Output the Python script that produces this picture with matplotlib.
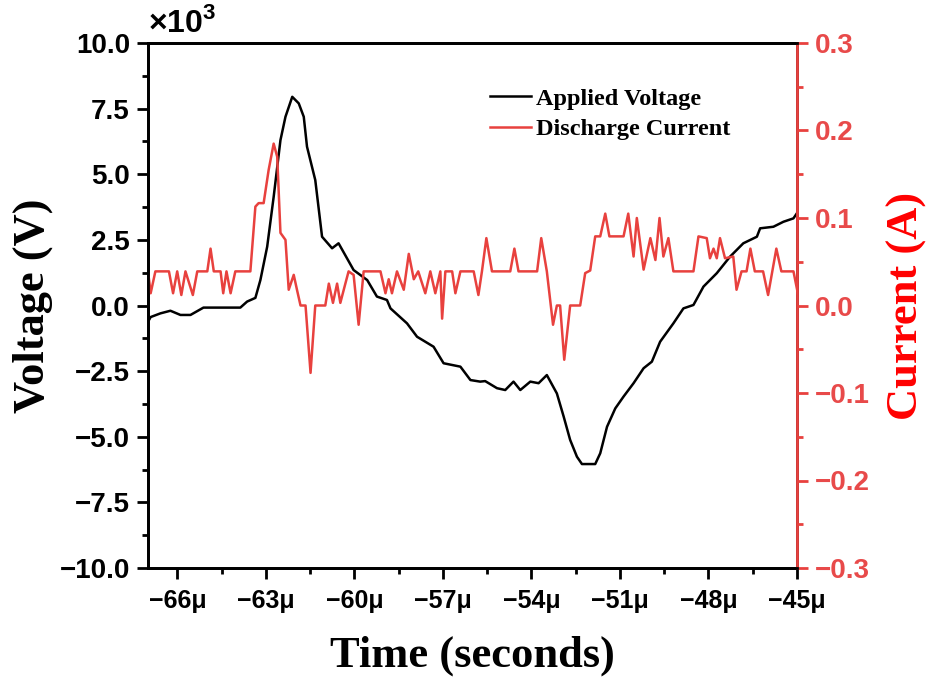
import matplotlib
matplotlib.use("Agg")
import matplotlib.pyplot as plt
from matplotlib.ticker import MultipleLocator, FuncFormatter

# applied voltage, time in microseconds, voltage in kV
volt_t = [-67.0, -66.91, -66.58, -66.24, -65.90, -65.56, -65.12, -63.87, -63.64, -63.36,
          -63.19, -62.96, -62.74, -62.51, -62.34, -62.11, -61.89, -61.72, -61.61, -61.33,
          -61.10, -60.76, -60.54, -60.03, -59.57, -59.24, -58.90, -58.78, -58.22, -57.88,
          -57.32, -56.98, -56.41, -56.07, -55.74, -55.57, -55.17, -54.89, -54.61, -54.38,
          -54.04, -53.76, -53.48, -53.14, -52.91, -52.69, -52.46, -52.29, -51.84, -51.67,
          -51.44, -51.16, -50.88, -50.54, -50.20, -49.92, -49.64, -49.19, -48.85, -48.51,
          -48.17, -47.72, -47.27, -46.82, -46.36, -46.25, -45.80, -45.46, -45.12, -44.97]
volt_kv = [-0.62, -0.44, -0.30, -0.20, -0.36, -0.36, -0.08, -0.08, 0.15, 0.29,
           0.97, 2.24, 4.14, 6.30, 7.19, 7.95, 7.70, 7.19, 6.05, 4.78,
           2.62, 2.18, 2.37, 1.35, 0.97, 0.34, 0.21, -0.11, -0.68, -1.19,
           -1.57, -2.20, -2.33, -2.84, -2.90, -2.88, -3.15, -3.22, -2.90, -3.22,
           -2.90, -2.96, -2.65, -3.35, -4.23, -5.12, -5.76, -6.04, -6.04, -5.63,
           -4.62, -3.92, -3.47, -2.96, -2.39, -2.14, -1.38, -0.68, -0.11, 0.02,
           0.72, 1.23, 1.86, 2.37, 2.62, 2.94, 3.00, 3.19, 3.32, 3.57]

# discharge current, time in microseconds, current in A
curr_t = [-67.0, -66.91, -66.75, -66.29, -66.15, -66.01, -65.87, -65.73, -65.48, -65.33,
          -64.99, -64.88, -64.77, -64.54, -64.45, -64.34, -64.20, -64.04, -63.53, -63.36,
          -63.25, -63.08, -62.91, -62.74, -62.62, -62.51, -62.34, -62.23, -62.06, -61.95,
          -61.83, -61.66, -61.49, -61.33, -60.99, -60.87, -60.73, -60.59, -60.48, -60.31,
          -60.20, -60.03, -59.86, -59.69, -59.12, -58.95, -58.84, -58.73, -58.56, -58.33,
          -58.16, -57.99, -57.84, -57.60, -57.43, -57.26, -57.09, -57.03, -56.92, -56.69,
          -56.58, -56.41, -55.96, -55.80, -55.68, -55.53, -55.34, -54.72, -54.58, -54.44,
          -53.81, -53.67, -53.48, -53.27, -53.14, -53.03, -52.89, -52.69, -52.35, -52.18,
          -52.01, -51.84, -51.67, -51.50, -51.36, -50.88, -50.72, -50.54, -50.43, -50.20,
          -49.97, -49.80, -49.66, -49.53, -49.36, -49.19, -48.51, -48.34, -48.06, -47.95,
          -47.83, -47.72, -47.61, -47.44, -47.16, -47.05, -46.88, -46.71, -46.58, -46.43,
          -46.15, -45.98, -45.70, -45.53, -45.12, -44.96]
curr_a = [0.039, 0.014, 0.039, 0.039, 0.014, 0.039, 0.012, 0.039, 0.012, 0.039,
          0.039, 0.065, 0.039, 0.039, 0.014, 0.039, 0.014, 0.039, 0.039, 0.113,
          0.117, 0.117, 0.155, 0.185, 0.170, 0.083, 0.075, 0.018, 0.035, 0.018,
          0.000, 0.000, -0.077, 0.000, 0.000, 0.025, 0.003, 0.025, 0.003, 0.025,
          0.039, 0.035, -0.022, 0.039, 0.039, 0.014, 0.030, 0.014, 0.039, 0.018,
          0.059, 0.030, 0.039, 0.014, 0.039, 0.014, 0.039, -0.015, 0.039, 0.039,
          0.014, 0.039, 0.039, 0.012, 0.039, 0.077, 0.039, 0.039, 0.065, 0.039,
          0.039, 0.077, 0.039, -0.022, 0.000, 0.000, -0.062, 0.000, 0.000, 0.037,
          0.040, 0.079, 0.079, 0.105, 0.079, 0.079, 0.105, 0.056, 0.100, 0.041,
          0.077, 0.052, 0.100, 0.056, 0.077, 0.039, 0.039, 0.079, 0.077, 0.054,
          0.065, 0.054, 0.077, 0.054, 0.056, 0.018, 0.039, 0.039, 0.065, 0.039,
          0.039, 0.012, 0.065, 0.039, 0.039, 0.012]

red = '#E8413E'
tick_red = '#E84A4A'

plt.rcParams['font.family'] = ['Liberation Sans', 'DejaVu Sans']
plt.rcParams['font.weight'] = 'bold'
plt.rcParams['mathtext.fontset'] = 'custom'
plt.rcParams['mathtext.rm'] = 'Liberation Sans:bold'
plt.rcParams['mathtext.bf'] = 'Liberation Sans:bold'

fig = plt.figure(figsize=(9.29, 6.79), dpi=100)
ax = fig.add_axes([148 / 929, 1 - 568 / 679, (797 - 148) / 929, (568 - 43) / 679])
ax2 = ax.twinx()

l1, = ax.plot(volt_t, volt_kv, color='black', lw=1.8, label='Applied Voltage',
              solid_joinstyle='round')
l2, = ax2.plot(curr_t, curr_a, color=red, lw=1.8, label='Discharge Current',
               solid_joinstyle='round')

ax.set_xlim(-67, -45)
ax.set_ylim(-10, 10)
ax2.set_ylim(-0.3, 0.3)

ax.xaxis.set_major_locator(MultipleLocator(3))
ax.xaxis.set_minor_locator(MultipleLocator(1.5))
ax.yaxis.set_major_locator(MultipleLocator(2.5))
ax.yaxis.set_minor_locator(MultipleLocator(1.25))
ax2.yaxis.set_major_locator(MultipleLocator(0.1))
ax2.yaxis.set_minor_locator(MultipleLocator(0.05))

ax.xaxis.set_major_formatter(FuncFormatter(lambda v, p: '%dμ' % round(v) if v >= 0 else '\u2212%dμ' % round(-v)))
ax.yaxis.set_major_formatter(FuncFormatter(lambda v, p: ('%.1f' % v).replace('-', '\u2212')))
ax2.yaxis.set_major_formatter(FuncFormatter(lambda v, p: ('%.1f' % v).replace('-', '\u2212')))

for s in ax.spines.values():
    s.set_linewidth(2)
for s in ax2.spines.values():
    s.set_linewidth(2)
ax2.spines['right'].set_color(red)

ax.tick_params(axis='both', which='major', direction='out', length=8, width=2)
ax.tick_params(axis='both', which='minor', direction='out', length=4, width=2)
ax.tick_params(axis='x', labelsize=18, pad=7)
ax.tick_params(axis='y', labelsize=20, pad=5)
ax2.tick_params(axis='y', which='major', direction='out', length=8, width=2, labelsize=20,
                colors=red, labelcolor=tick_red, pad=5)
ax2.tick_params(axis='y', which='minor', direction='out', length=4, width=2, colors=red)

serif = ['Liberation Serif', 'DejaVu Serif']
ax.set_xlabel('Time (seconds)', family=serif, fontsize=32, weight='bold', labelpad=16)
ax.set_ylabel('Voltage (V)', family=serif, fontsize=32, weight='bold', labelpad=5)
ax2.set_ylabel('Current (A)', family=serif, fontsize=32, weight='bold', color='#FF0000', labelpad=12)

ax.text(0.0, 1.008, r'$\times 10^{3}$', transform=ax.transAxes, fontsize=23, ha='left', va='bottom')

leg = ax.legend(handles=[l1, l2], loc='upper left', bbox_to_anchor=(0.527, 0.915), frameon=False,
                prop={'family': serif, 'weight': 'bold', 'size': 17.5},
                handlelength=1.7, handletextpad=0.2, labelspacing=0.35,
                borderpad=0, borderaxespad=0)

fig.savefig('out.png', dpi=100)
